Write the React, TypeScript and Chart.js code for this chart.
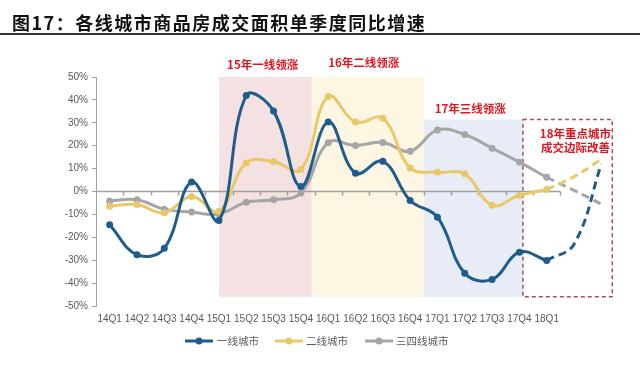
import React, { useEffect, useRef } from 'react';
import { Chart, registerables } from 'chart.js';

Chart.register(...registerables);

// ---- data ----
const quarters = ['14Q1', '14Q2', '14Q3', '14Q4', '15Q1', '15Q2', '15Q3', '15Q4', '16Q1', '16Q2', '16Q3', '16Q4', '17Q1', '17Q2', '17Q3', '17Q4', '18Q1'];
const futureSlots = ['', ''];
const seriesNames = ['一线城市', '二线城市', '三四线城市'];
const tier1 = [-14.5, -27.6, -24.8, 4.1, -12.7, 41.9, 35.1, 2.2, 30.3, 8.0, 13.2, -3.9, -11.2, -35.7, -38.4, -26.5, -30.1];
const tier2 = [-6.4, -5.7, -9.3, -2.2, -8.6, 12.5, 13.1, 9.6, 41.5, 30.3, 32.0, 10.3, 8.4, 7.7, -6.0, -1.7, 0.9];
const tier34 = [-4.1, -3.6, -7.7, -9.0, -9.8, -4.7, -3.6, -0.7, 21.3, 20.1, 21.4, 17.6, 26.9, 24.9, 18.9, 12.8, 6.2];
// projected trend (18Q1 and the two following slots)
const tier1Proj = [-30.1, -23, 12];
const tier2Proj = [0.9, 6.5, 14];
const tier34Proj = [6.2, 0.5, -5.5];
const yMin = -50;
const yMax = 50;
const yStep = 10;
const phaseLabels = ['15年一线领涨', '16年二线领涨', '17年三线领涨'];
const outlookLabel = ['18年重点城市', '成交边际改善'];

const COLORS = ['#1F5C8B', '#E9C86A', '#A6A6A6'];

const projData = (vals: number[]) => [...Array(quarters.length - 1).fill(null), ...vals];

const decor = {
  id: 'decor',
  beforeDatasetsDraw(chart: any) {
    const { ctx, scales } = chart;
    const x = scales.x;
    const y = scales.y;
    ctx.save();
    const bands = [
      { from: 4, to: 7.4, top: 50, bottom: -46, color: '#F4E1E1' },
      { from: 7.4, to: 11.5, top: 50, bottom: -46, color: '#FDF6E3' },
      { from: 11.5, to: 15.13, top: 31.4, bottom: -46, color: '#E8ECF6' },
    ];
    for (const b of bands) {
      const x0 = x.getPixelForValue(b.from);
      const x1 = x.getPixelForValue(b.to);
      const y0 = y.getPixelForValue(b.top);
      const y1 = y.getPixelForValue(b.bottom);
      ctx.fillStyle = b.color;
      ctx.fillRect(x0, y0, x1 - x0, y1 - y0);
    }
    // dashed outlook box
    {
      const x0 = x.getPixelForValue(15.13);
      const x1 = x.getPixelForValue(18.4);
      const y0 = y.getPixelForValue(31.4);
      const y1 = y.getPixelForValue(-46);
      ctx.setLineDash([4, 3]);
      ctx.strokeStyle = '#B04A5E';
      ctx.lineWidth = 1.5;
      ctx.strokeRect(x0, y0, x1 - x0, y1 - y0);
      ctx.setLineDash([]);
    }
    // zero axis line with category ticks
    const yz = y.getPixelForValue(0);
    const xs = x.getPixelForValue(-0.5);
    const xe = x.getPixelForValue(quarters.length - 0.5);
    ctx.strokeStyle = '#A0A0A0';
    ctx.lineWidth = 1.5;
    ctx.beginPath();
    ctx.moveTo(xs, yz);
    ctx.lineTo(xe, yz);
    for (let k = 0; k < quarters.length; k++) {
      const px = Math.round(x.getPixelForValue(k + 0.5)) + 0.5;
      ctx.moveTo(px, yz);
      ctx.lineTo(px, yz + 4);
    }
    ctx.stroke();
    ctx.restore();
  },
  afterDatasetsDraw(chart: any) {
    const { ctx, scales } = chart;
    const x = scales.x;
    const y = scales.y;
    ctx.save();
    ctx.fillStyle = '#E3141E';
    ctx.font = 'bold 11.5px "Noto Sans CJK SC"';
    ctx.textAlign = 'center';
    ctx.textBaseline = 'middle';
    ctx.fillText(phaseLabels[0], x.getPixelForValue(5.6), y.getPixelForValue(55.6));
    ctx.fillText(phaseLabels[1], x.getPixelForValue(9.3), y.getPixelForValue(56.3));
    ctx.fillText(phaseLabels[2], x.getPixelForValue(13.2), y.getPixelForValue(36.3));
    ctx.fillText(outlookLabel[0], x.getPixelForValue(17.05), y.getPixelForValue(25.3));
    ctx.fillText(outlookLabel[1], x.getPixelForValue(17.05), y.getPixelForValue(19.2));

    // legend
    const ly = 341;
    const items = [
      { x: 185, tx: 217 },
      { x: 275, tx: 306 },
      { x: 365, tx: 396 },
    ];
    ctx.font = '10.5px "Noto Sans CJK SC"';
    ctx.textAlign = 'left';
    items.forEach((it, i) => {
      ctx.strokeStyle = COLORS[i];
      ctx.lineWidth = 3;
      ctx.beginPath();
      ctx.moveTo(it.x, ly);
      ctx.lineTo(it.x + 28, ly);
      ctx.stroke();
      ctx.fillStyle = COLORS[i];
      ctx.beginPath();
      ctx.arc(it.x + 14, ly, 3.5, 0, Math.PI * 2);
      ctx.fill();
      ctx.fillStyle = '#595959';
      ctx.fillText(seriesNames[i], it.tx, ly);
    });
    ctx.restore();
  },
};

export default function App() {
  const ref = useRef<HTMLCanvasElement>(null);
  useEffect(() => {
    document.body.style.margin = '0';
    const canvas = ref.current;
    if (!canvas) return;
    const solid = (label: string, data: number[], color: string) => ({
      label,
      data,
      borderColor: color,
      backgroundColor: color,
      borderWidth: 3,
      pointRadius: 3.5,
      pointHoverRadius: 3.5,
      pointBorderWidth: 0,
      pointBackgroundColor: color,
      tension: 0.4,
      fill: false,
    });
    const dashed = (label: string, data: (number | null)[], color: string) => ({
      label,
      data,
      borderColor: color,
      backgroundColor: color,
      borderWidth: 3,
      borderDash: [8, 5],
      pointRadius: 0,
      tension: 0.4,
      fill: false,
      spanGaps: false,
    });
    const chart = new Chart(canvas, {
      type: 'line',
      data: {
        labels: [...quarters, ...futureSlots],
        datasets: [
          solid(seriesNames[0], tier1, COLORS[0]),
          solid(seriesNames[1], tier2, COLORS[1]),
          solid(seriesNames[2], tier34, COLORS[2]),
          dashed(seriesNames[0] + '预测', projData(tier1Proj), COLORS[0]),
          dashed(seriesNames[1] + '预测', projData(tier2Proj), COLORS[1]),
          dashed(seriesNames[2] + '预测', projData(tier34Proj), COLORS[2]),
        ] as any,
      },
      options: {
        animation: false,
        responsive: false,
        maintainAspectRatio: false,
        devicePixelRatio: 1,
        layout: { padding: { top: 77, right: 25, left: 0, bottom: 0 } },
        plugins: {
          legend: { display: false },
          title: { display: false },
          tooltip: { enabled: false },
        },
        scales: {
          x: {
            type: 'category',
            offset: true,
            grid: { display: false, drawTicks: false, offset: true },
            border: { display: false },
            ticks: {
              autoSkip: false,
              maxRotation: 0,
              minRotation: 0,
              padding: 7,
              color: '#595959',
              font: { family: '"Liberation Sans", Arial', size: 10 },
              callback: (_v: any, i: number) => quarters[i] ?? '',
            },
            afterFit: (s: any) => {
              s.height = 64;
            },
          },
          y: {
            min: yMin,
            max: yMax,
            grid: { display: true, drawOnChartArea: false, drawTicks: true, tickLength: 4, color: '#A0A0A0' },
            border: { display: true, color: '#A0A0A0', width: 1 },
            ticks: {
              stepSize: yStep,
              padding: 4,
              color: '#595959',
              font: { family: '"Liberation Sans", Arial', size: 10 },
              callback: (v: any) => `${v}%`,
            },
            afterFit: (s: any) => {
              s.width = 96;
            },
          },
        },
      } as any,
      plugins: [decor],
    });
    return () => chart.destroy();
  }, []);

  return (
    <div style={{ position: 'relative', width: 640, height: 370, background: '#fff' }}>
      <canvas ref={ref} width={640} height={370} style={{ display: 'block', width: 640, height: 370 }} />
      <div
        style={{
          position: 'absolute',
          left: 12,
          top: 10,
          font: 'bold 18px "Noto Sans CJK SC"',
          lineHeight: '24px',
          letterSpacing: '1.5px',
          color: '#111',
          whiteSpace: 'nowrap',
        }}
      >
        图17：各线城市商品房成交面积单季度同比增速
      </div>
      <div style={{ position: 'absolute', left: 0, top: 33, width: 640, height: 2, background: '#333' }} />
    </div>
  );
}
